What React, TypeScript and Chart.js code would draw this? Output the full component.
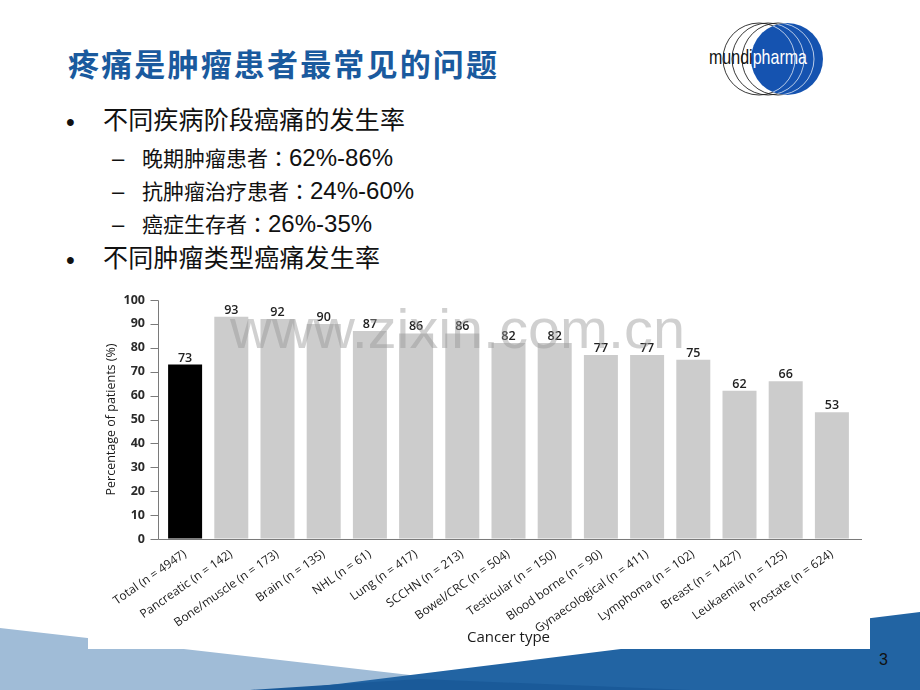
import React, { useEffect, useRef } from "react";
import { Chart, registerables } from "chart.js";

Chart.register(...registerables);

const cancerTypes = [
  "Total (n = 4947)",
  "Pancreatic (n = 142)",
  "Bone/muscle (n = 173)",
  "Brain (n = 135)",
  "NHL (n = 61)",
  "Lung (n = 417)",
  "SCCHN (n = 213)",
  "Bowel/CRC (n = 504)",
  "Testicular (n = 150)",
  "Blood borne (n = 90)",
  "Gynaecological (n = 411)",
  "Lymphoma (n = 102)",
  "Breast (n = 1427)",
  "Leukaemia (n = 125)",
  "Prostate (n = 624)",
];
const painPercent = [73, 93, 92, 90, 87, 86, 86, 82, 82, 77, 77, 75, 62, 66, 53];
const yTickValues = [0, 10, 20, 30, 40, 50, 60, 70, 80, 90, 100];
const yAxisTitle = "Percentage of patients (%)";
const xAxisTitle = "Cancer type";

const slideTitle = "疼痛是肿瘤患者最常见的问题";
const bullet1 = "不同疾病阶段癌痛的发生率";
const subItems = ["晚期肿瘤患者", "抗肿瘤治疗患者", "癌症生存者"];
const subValues = ["62%-86%", "24%-60%", "26%-35%"];
const bullet2 = "不同肿瘤类型癌痛发生率";

const FONT = "'Open Sans', 'DejaVu Sans', sans-serif";
const CJK = "'Noto Sans CJK SC', sans-serif";
const CJK_TC = "'Noto Sans CJK TC', 'Noto Sans CJK SC', sans-serif";
const LAT = "'Liberation Sans', Arial, sans-serif";

function ChartBox() {
  const ref = useRef<HTMLCanvasElement>(null);
  useEffect(() => {
    const canvas = ref.current;
    if (!canvas) return;

    const axisPlugin = {
      id: "customAxes",
      afterDatasetsDraw(chart: any) {
        const { ctx, chartArea, scales } = chart;
        const y = scales.y;
        const x0 = Math.round(chartArea.left - 4) + 0.5;
        const yTop = Math.round(y.getPixelForValue(100)) + 0.5;
        const yBot = Math.round(y.getPixelForValue(0)) + 0.5;
        ctx.save();
        ctx.strokeStyle = "#7a7a7a";
        ctx.lineWidth = 1;
        ctx.beginPath();
        ctx.moveTo(x0, yTop);
        ctx.lineTo(x0, yBot);
        ctx.moveTo(x0, yBot);
        ctx.lineTo(chartArea.right + 7, yBot);
        yTickValues.forEach((v) => {
          const py = Math.round(y.getPixelForValue(v)) + 0.5;
          ctx.moveTo(x0 - 8, py);
          ctx.lineTo(x0, py);
        });
        ctx.stroke();
        ctx.restore();
      },
    };

    const valuePlugin = {
      id: "valueLabels",
      afterDatasetsDraw(chart: any) {
        const { ctx } = chart;
        const meta = chart.getDatasetMeta(0);
        ctx.save();
        ctx.font = `600 12.5px ${FONT}`;
        ctx.fillStyle = "#222";
        ctx.textAlign = "center";
        ctx.textBaseline = "alphabetic";
        meta.data.forEach((bar: any, i: number) => {
          ctx.fillText(String(painPercent[i]), bar.x, bar.y - 3);
        });
        ctx.restore();
      },
    };

    const chart = new Chart(canvas, {
      type: "bar",
      data: {
        labels: cancerTypes,
        datasets: [
          {
            data: painPercent,
            backgroundColor: (c: any) => (c.dataIndex === 0 ? "#000000" : "#cccccc"),
            borderWidth: 0,
            barPercentage: 0.736,
            categoryPercentage: 1,
          },
        ],
      },
      options: {
        responsive: false,
        animation: false,
        events: [],
        layout: { padding: { left: 10, right: 15, top: 12, bottom: 0 } },
        plugins: { legend: { display: false }, tooltip: { enabled: false } },
        scales: {
          x: {
            grid: { display: false },
            border: { display: false },
            ticks: {
              autoSkip: false,
              minRotation: 35,
              maxRotation: 35,
              padding: 0,
              color: "#1a1a1a",
              font: { family: FONT, size: 12 },
            },
            title: {
              display: true,
              text: xAxisTitle,
              color: "#1a1a1a",
              font: { family: FONT, size: 15 },
              padding: { top: 0, bottom: 2 },
            },
            afterFit: (s: any) => {
              s.height = 110;
            },
          },
          y: {
            min: 0,
            max: 100,
            grid: {
              display: true,
              drawOnChartArea: false,
              drawTicks: true,
              tickLength: 14,
              color: "rgba(0,0,0,0)",
            },
            border: { display: false },
            ticks: {
              stepSize: 10,
              padding: 3,
              color: "#2a2a2a",
              font: { family: FONT, size: 12.5, weight: "bold" },
            },
            title: {
              display: true,
              text: yAxisTitle,
              color: "#1a1a1a",
              font: { family: FONT, size: 12.5 },
              padding: { top: 6, bottom: 0 },
            },
            afterFit: (s: any) => {
              s.width = 64;
            },
          },
        },
      },
      plugins: [axisPlugin, valuePlugin],
    } as any);
    return () => chart.destroy();
  }, []);
  return (
    <div
      style={{
        position: "absolute",
        left: 88,
        top: 288,
        width: 782,
        height: 361,
        background: "#ffffff",
      }}
    >
      <canvas ref={ref} width={782} height={361} style={{ width: 782, height: 361, display: "block" }} />
    </div>
  );
}

export default function App() {
  const subBaselines = [166, 199, 232];
  const outlineCx = [759, 768, 778];
  return (
    <div
      style={{
        position: "absolute",
        left: 0,
        top: 0,
        width: 920,
        height: 690,
        overflow: "hidden",
        background: "#ffffff",
      }}
    >
      <svg width={920} height={690} style={{ position: "absolute", left: 0, top: 0 }}>
        <defs>
          <clipPath id="blueClip">
            <circle cx={787} cy={59} r={36} />
          </clipPath>
        </defs>
        {/* footer waves */}
        <polygon points="0,628 410,675 540,690 0,690" fill="#a0bcd7" />
        <polygon points="289,690 920,612 920,690" fill="#2264a3" />
        <polygon points="250,690 420,679 690,690" fill="#1a5a99" />
        {/* logo */}
        {outlineCx.map((cx) => (
          <circle key={"o" + cx} cx={cx} cy={59} r={36} fill="none" stroke="#222" strokeWidth={0.9} />
        ))}
        <circle cx={787} cy={59} r={36} fill="#1553b0" />
        <g clipPath="url(#blueClip)">
          {outlineCx.map((cx) => (
            <circle key={"w" + cx} cx={cx} cy={59} r={36} fill="none" stroke="#ffffff" strokeWidth={0.7} />
          ))}
        </g>
        <text x={709} y={64} fontSize={21} fontFamily={LAT} textLength={98} lengthAdjust="spacingAndGlyphs">
          <tspan fill="#111">mundi</tspan>
          <tspan fill="#ffffff">pharma</tspan>
        </text>
        {/* title */}
        <text
          x={68}
          y={76}
          fontSize={31}
          fontWeight="bold"
          fontFamily={CJK}
          fill="#1a5a9e"
          textLength={429}
          lengthAdjust="spacing"
        >
          {slideTitle}
        </text>
        {/* bullets */}
        <text x={66} y={131} fontSize={25} fontFamily={LAT} fill="#111">
          •
        </text>
        <text x={103} y={129} fontSize={25} fontFamily={CJK} fill="#111" textLength={302} lengthAdjust="spacing">
          {bullet1}
        </text>
        {subItems.map((s, i) => (
          <g key={"sub" + i}>
            <text x={112} y={subBaselines[i]} fontSize={22} fontFamily={LAT} fill="#111">
              –
            </text>
            <text x={142} y={subBaselines[i]} fill="#111">
              <tspan fontSize={21} fontFamily={CJK}>
                {s}
              </tspan>
              <tspan fontSize={21} fontFamily={CJK_TC}>
                ：
              </tspan>
              <tspan fontSize={24} fontFamily={LAT}>
                {subValues[i]}
              </tspan>
            </text>
          </g>
        ))}
        <text x={66} y={269} fontSize={25} fontFamily={LAT} fill="#111">
          •
        </text>
        <text x={103} y={267} fontSize={25} fontFamily={CJK} fill="#111" textLength={277} lengthAdjust="spacing">
          {bullet2}
        </text>
        {/* page number */}
        <text x={879} y={665} fontSize={16} fontFamily={LAT} fill="#111">
          3
        </text>
      </svg>
      <ChartBox />
      <svg
        width={920}
        height={690}
        style={{ position: "absolute", left: 0, top: 0, pointerEvents: "none" }}
      >
        <text
          x={230}
          y={348}
          fontSize={56}
          fontFamily={LAT}
          fill="rgba(150,150,150,0.45)"
          textLength={455}
          lengthAdjust="spacingAndGlyphs"
        >
          www.zixin.com.cn
        </text>
      </svg>
    </div>
  );
}
